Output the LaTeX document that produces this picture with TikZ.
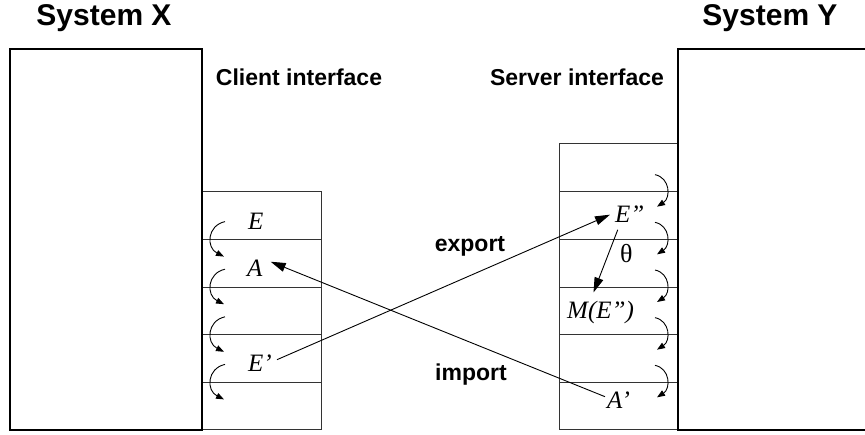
\documentclass[tikz,border=0pt]{standalone}
\usepackage{fontspec}
\setmainfont{Liberation Serif}
\setsansfont{Liberation Sans}
\usetikzlibrary{arrows.meta,calc}
\begin{document}
\begin{tikzpicture}[x=1pt,y=-1pt,
  sysbox/.style={line width=2.4pt},
  stackline/.style={line width=1pt, draw=black!80},
  head/.style={font=\sffamily\bfseries\fontsize{30}{30}\selectfont, inner sep=0pt},
  lab/.style={font=\sffamily\bfseries\fontsize{23}{23}\selectfont, inner sep=0pt},
  sym/.style={font=\itshape\fontsize{25}{25}\selectfont, inner sep=2pt},
  link/.style={line width=0.9pt, -{Triangle[length=15pt,width=9pt]}},
  turn/.style={line width=0.9pt, -{Triangle[length=8pt,width=6pt]}}
]
\useasboundingbox (0,0) rectangle (865,435);
\clip (0,0) rectangle (865,435);

% interface stacks
\draw[stackline] (202,192) rectangle (321,430);
\foreach \i in {1,...,4}
  \draw[stackline] (202,{192+\i*47.6}) -- (321,{192+\i*47.6});
\draw[stackline] (559,144) rectangle (678,430);
\foreach \i in {1,...,5}
  \draw[stackline] (559,{144+\i*47.67}) -- (678,{144+\i*47.67});

% the two systems
\draw[sysbox] (10,49) rectangle (202,430);
\draw[sysbox] (678,49) rectangle (890,430);

% titles
\node[head, anchor=base] (sx) at (104,26) {System X};
\node[head, anchor=base] (sy) at (770,26) {System Y};
\node[lab, anchor=base] (ci) at (299,86) {Client interface};
\node[lab, anchor=base] (si) at (577,86) {Server interface};
\node[lab, anchor=base] (ex) at (470,252) {export};
\node[lab, anchor=base] (im) at (471,381) {import};

% entries of the client interface
\node[sym, anchor=base west] (E) at (246,230) {E};
\node[sym, anchor=base west] (A) at (245,277) {A};
\node[sym, anchor=base west] (Ep) at (246,372) {E’};

% entries of the server interface
\node[sym, anchor=base west] (Epp) at (613,223) {E”};
\node[font=\fontsize{26}{26}\selectfont, inner sep=0pt, anchor=base west] (th) at (620,263) {θ};
\node[sym, anchor=base west] (M) at (565,319) {M(E”)};
\node[sym, anchor=base west] (Ap) at (605,409) {A’};

% export and import
\draw[link] ([shift={(3,-4)}]Ep.east) -- ([shift={(-3,0)}]Epp.west);
\draw[link] ([shift={(0,-4)}]Ap.west) -- ([shift={(6,-7)}]A.east);
\draw[link] ([shift={(-12,15)}]Epp.center) -- ([shift={(-7,-7)}]M.north);

% order within the client interface
\foreach \i in {1,...,4} {
  \pgfmathsetmacro\yb{192+\i*47.6}
  \coordinate (cs\i) at (225,\yb-18);
  \coordinate (ce\i) at (224,\yb+17);
  \draw[turn] (cs\i) .. controls (207,\yb-14) and (206,\yb+8) .. (ce\i);
}
% order within the server interface
\foreach \i in {1,...,5} {
  \pgfmathsetmacro\yb{144+\i*47.67}
  \coordinate (ss\i) at (655,\yb-17);
  \coordinate (se\i) at (657,\yb+15);
  \draw[turn] (ss\i) .. controls (670,\yb-14) and (671,\yb+6) .. (se\i);
}
\end{tikzpicture}
\end{document}
